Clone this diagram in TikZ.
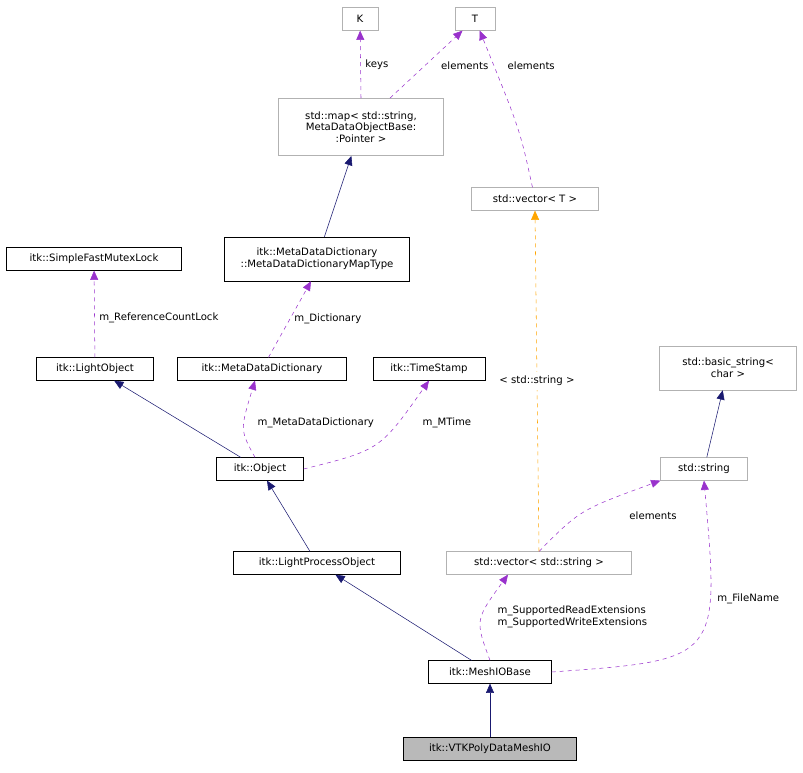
\documentclass[tikz,border=0pt]{standalone}
\usepackage{fontspec}
\setmainfont{DejaVu Sans}
\usetikzlibrary{arrows.meta}
\definecolor{navyedge}{RGB}{25,25,112}
\definecolor{memberedge}{RGB}{153,50,204}
\definecolor{tmpledge}{RGB}{255,165,0}
\begin{document}
\begin{tikzpicture}[x=0.75pt, y=-0.75pt, >={Triangle[length=7pt,width=6pt]},
    font=\fontsize{7.6}{8.8}\selectfont,
    cls/.style={draw=black, fill=white, inner sep=2pt, minimum height=17pt, align=center},
    ext/.style={draw=gray!60, fill=white, inner sep=2pt, minimum height=17pt, align=center},
    lbl/.style={text=black},
    inherit/.style={->, navyedge},
    member/.style={->, memberedge, dashed},
    tmpl/.style={->, tmpledge, dashed}]
    \useasboundingbox (0,0) rectangle (803,773);

    % Nodes from top to bottom
    \node[ext, minimum width=27pt] (K) at (360,19) {K};
    \node[ext, minimum width=30pt] (T) at (475,19) {T};
    \node[ext, minimum width=124pt, minimum height=43pt] (map) at (361,127) {std::map< std::string,\\ MetaDataObjectBase:\\:Pointer >};
    \node[ext, minimum width=95pt] (vecT) at (535,199) {std::vector< T >};
    \node[cls, minimum width=131pt] (lock) at (94,259) {itk::SimpleFastMutexLock};
    \node[cls, minimum width=139pt, minimum height=33pt] (maptype) at (317,259) {itk::MetaDataDictionary\\::MetaDataDictionaryMapType};
    \node[cls, minimum width=88pt] (lobj) at (95,369) {itk::LightObject};
    \node[cls, minimum width=127pt] (mdd) at (262,369) {itk::MetaDataDictionary};
    \node[cls, minimum width=84pt] (tstamp) at (429,369) {itk::TimeStamp};
    \node[ext, minimum width=103pt, minimum height=33pt] (bstr) at (728,368) {std::basic\_string<\\ char >};
    \node[ext, minimum width=65pt] (str) at (704,469) {std::string};
    \node[cls, minimum width=65pt] (obj) at (260,469) {itk::Object};
    \node[cls, minimum width=125pt] (lpo) at (317,563) {itk::LightProcessObject};
    \node[ext, minimum width=139pt] (vecstr) at (539,563) {std::vector< std::string >};
    \node[cls, minimum width=92pt] (mesh) at (490,672) {itk::MeshIOBase};
    \node[cls, minimum width=130pt, fill=gray!55] (vtk) at (490,749) {itk::VTKPolyDataMeshIO};

    % Inheritance
    \draw[inherit] (vtk) -- (mesh);
    \draw[inherit] (mesh) -- (lpo);
    \draw[inherit] (lpo) -- (obj);
    \draw[inherit] (obj) -- (lobj);
    \draw[inherit] (maptype) -- (map);
    \draw[inherit] (str) -- (bstr);

    % Members
    \draw[member] (lobj) -- (lock) node[pos=0.45, right, lbl] {m\_ReferenceCountLock};
    \draw[member] (mdd) -- (maptype.south -| 311,0) node[midway, right, lbl] {m\_Dictionary};
    \draw[member] (obj.north -| 255,0) .. controls (240,430) .. (mdd.south -| 255,0);
    \node[lbl, anchor=west] (mddlbl) at (253,423) {m\_MetaDataDictionary};
    \draw[member] (obj.east) .. controls (380,450) .. (tstamp.south);
    \node[lbl, anchor=west] (mtimelbl) at (418,423) {m\_MTime};
    \draw[member] (map.north) -- (K) node[midway, right, lbl] {keys};
    \draw[member] (map.north -| 390,0) -- (T);
    \node[lbl, anchor=east] (maplbl) at (493,66) {elements};
    \draw[member] (vecT) .. controls (520,130) .. (T);
    \node[lbl, anchor=west] (veclbl) at (503,66) {elements};
    \draw[member] (vecstr.north) .. controls (580,510) .. (str.south west);
    \node[lbl] (strlbl) at (653,516) {elements};
    \draw[member] (mesh.north) .. controls (475,620) .. (vecstr.south -| 508,0);
    \node[lbl, anchor=west, align=left] (extlbl) at (493,617) {m\_SupportedReadExtensions\\m\_SupportedWriteExtensions};
    \draw[member] (mesh.east) .. controls (720,660) .. (str.south) node[pos=0.7, right, xshift=2pt, lbl] {m\_FileName};

    % Template instance
    \draw[tmpl] (vecstr.north) -- (vecT.south) node[midway, fill=white, lbl] {< std::string >};
\end{tikzpicture}
\end{document}
